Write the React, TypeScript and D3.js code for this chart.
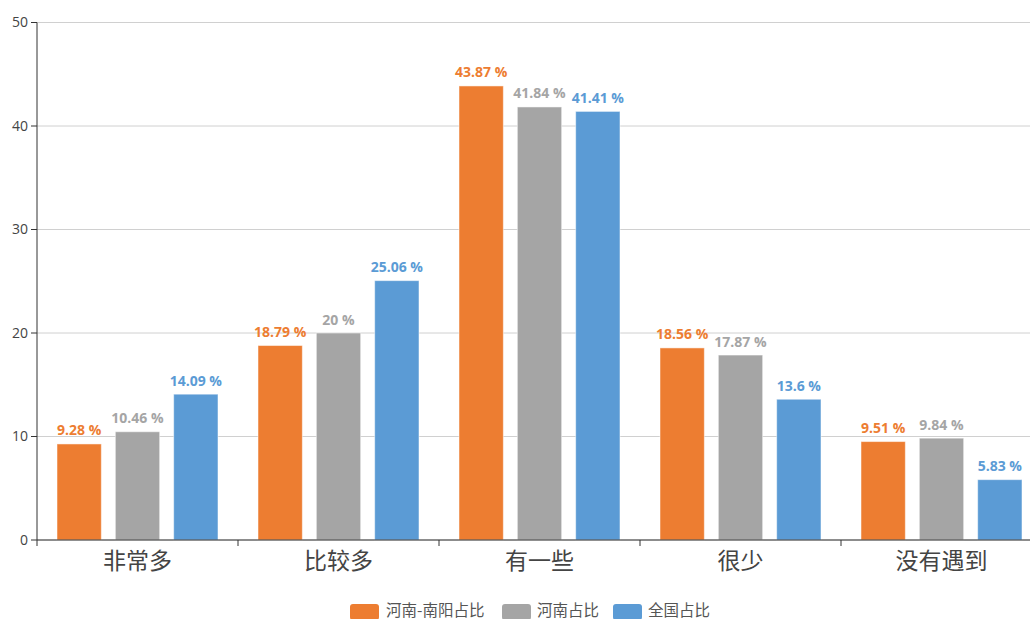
import React from "react";
import * as d3 from "d3";

const categories = ["非常多", "比较多", "有一些", "很少", "没有遇到"];
const seriesNames = ["河南-南阳占比", "河南占比", "全国占比"];
const nanyang = [9.28, 18.79, 43.87, 18.56, 9.51];
const henan = [10.46, 20, 41.84, 17.87, 9.84];
const national = [14.09, 25.06, 41.41, 13.6, 5.83];
const yTicks = [0, 10, 20, 30, 40, 50];
const colors = ["#ED7D31", "#A5A5A5", "#5B9BD5"];

const W = 1030;
const H = 619;
const FONT = "'Noto Sans CJK SC', 'Noto Sans', sans-serif";
const NUMFONT = "'Open Sans', 'Noto Sans', sans-serif";

export default function App() {
  const series = [nanyang, henan, national];
  const x = d3.scaleBand<string>().domain(categories).range([37, 1042]).padding(0);
  const inner = d3
    .scaleBand<number>()
    .domain([0, 1, 2])
    .range([20, x.bandwidth() - 20])
    .paddingInner(0.24)
    .paddingOuter(0);
  const y = d3.scaleLinear().domain([0, 50]).range([540, 22.5]);

  const legendItems = [
    { x: 350, tx: 386 },
    { x: 502, tx: 537 },
    { x: 613, tx: 648 },
  ];

  return (
    <svg
      width={W}
      height={H}
      style={{ position: "absolute", left: 0, top: 0, display: "block", background: "#fff" }}
      fontFamily={FONT}
    >
      {/* grid */}
      {yTicks.map((t) => (
        <line key={"g" + t} x1={37} x2={W} y1={y(t)} y2={y(t)} stroke="#d0d0d0" strokeWidth={1} />
      ))}
      {/* bars */}
      {categories.map((c, ci) =>
        series.map((s, si) => {
          const bx = (x(c) as number) + (inner(si) as number);
          const by = y(s[ci]);
          return (
            <g key={c + si}>
              <rect
                x={bx}
                y={by}
                width={inner.bandwidth()}
                height={y(0) - by}
                fill={colors[si]}
                stroke="#ffffff"
                strokeOpacity={0.5}
                strokeWidth={1}
              />
              <text
                x={bx + inner.bandwidth() / 2}
                y={by - 8.5}
                textAnchor="middle"
                fontSize={14}
                fontWeight="bold"
                fontFamily={NUMFONT}
                fill={colors[si]}
              >
                {s[ci] + " %"}
              </text>
            </g>
          );
        })
      )}
      {/* y axis */}
      <line x1={37} x2={37} y1={22.5} y2={540} stroke="#333" strokeWidth={1} />
      {yTicks.map((t) => (
        <g key={"y" + t}>
          <line x1={31} x2={37} y1={y(t)} y2={y(t)} stroke="#333" />
          <text x={28} y={y(t)} dy="0.35em" textAnchor="end" fontSize={14} fontFamily={NUMFONT} fill="#444">
            {t}
          </text>
        </g>
      ))}
      {/* x axis */}
      <line x1={37} x2={W} y1={540} y2={540} stroke="#333" strokeWidth={1} />
      {categories.map((c, i) => (
        <line
          key={"xt" + i}
          x1={(x(c) as number)}
          x2={(x(c) as number)}
          y1={540}
          y2={546}
          stroke="#333"
        />
      ))}
      {categories.map((c) => (
        <text
          key={"xl" + c}
          x={(x(c) as number) + x.bandwidth() / 2}
          y={561}
          dy="0.35em"
          textAnchor="middle"
          fontSize={23}
          fill="#444"
        >
          {c}
        </text>
      ))}
      {/* legend */}
      {seriesNames.map((n, i) => (
        <g key={n}>
          <rect x={legendItems[i].x} y={604} width={29} height={16} rx={3} fill={colors[i]} />
          <text x={legendItems[i].tx} y={611} dy="0.35em" fontSize={15.5} fill="#555">
            {n}
          </text>
        </g>
      ))}
    </svg>
  );
}
